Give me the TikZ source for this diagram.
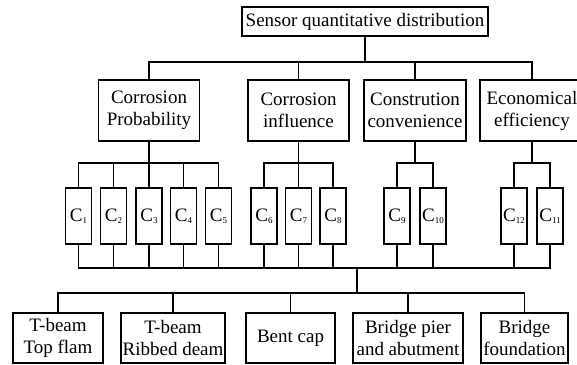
\documentclass[tikz,border=0pt]{standalone}
\usepackage{fontspec}
\setmainfont{Liberation Serif}
\begin{document}
\begin{tikzpicture}[x=1pt,y=-1pt,
  box/.style={draw,line width=1.4pt,inner sep=0pt,align=center,font=\fontsize{19}{22}\selectfont},
  cbox/.style={box,minimum width=26pt,minimum height=56pt},
  conn/.style={line width=1.4pt,line cap=rect}]
\useasboundingbox (0,0) rectangle (577,364);
\newcommand{\Csub}[1]{C\raisebox{-0.25ex}{\fontsize{9}{9}\selectfont #1}}
% top
\node[box,minimum width=246pt,minimum height=29pt] (top) at (365,21.5) {Sensor quantitative distribution};
% level 2
\node[box,minimum width=101pt,minimum height=61pt] (cp) at (149,110.5) {Corrosion\\Probability};
\node[box,minimum width=101pt,minimum height=61pt] (ci) at (298.5,110.5) {Corrosion\\influence};
\node[box,minimum width=102pt,minimum height=61pt] (cc) at (415,110.5) {Constrution\\convenience};
\node[box,minimum width=104pt,minimum height=61pt] (ee) at (532,110.5) {Economical\\efficiency};
% C boxes
\node[cbox] (c1) at (78.5,216) {\Csub{1}};
\node[cbox] (c2) at (113.5,216) {\Csub{2}};
\node[cbox] (c3) at (149,216) {\Csub{3}};
\node[cbox] (c4) at (183.5,216) {\Csub{4}};
\node[cbox] (c5) at (218.5,216) {\Csub{5}};
\node[cbox] (c6) at (264,216) {\Csub{6}};
\node[cbox] (c7) at (298.5,216) {\Csub{7}};
\node[cbox] (c8) at (333,216) {\Csub{8}};
\node[cbox] (c9) at (397,216) {\Csub{9}};
\node[cbox] (c10) at (433,216) {\Csub{10}};
\node[cbox] (c12) at (514,216) {\Csub{12}};
\node[cbox] (c11) at (550,216) {\Csub{11}};
% bottom boxes
\node[box,minimum width=90pt,minimum height=50pt] (b1) at (58,338) {T-beam\\Top flam};
\node[box,minimum width=104pt,minimum height=50pt] (b2) at (173,338) {T-beam\\Ribbed deam};
\node[box,minimum width=89pt,minimum height=50pt] (b3) at (290.5,338) {Bent cap};
\node[box,minimum width=110pt,minimum height=50pt] (b4) at (408,338) {Bridge pier\\and abutment};
\node[box,minimum width=87pt,minimum height=50pt] (b5) at (524.5,338) {Bridge\\foundation};
% junction coordinates
\coordinate (j0) at (365,62);
\coordinate (j1) at (149,163);
\coordinate (j2) at (298.5,163);
\coordinate (j3) at (415,163);
\coordinate (j4) at (532,163);
\coordinate (jl) at (357,268);
\coordinate (jb) at (357,293);
% connectors
\draw[conn] (top.south) -- (j0);
\foreach \n in {cp,ci,cc,ee} {\draw[conn] (j0) -| (\n.north);}
\draw[conn] (cp.south) -- (j1);
\foreach \n in {c1,c2,c3,c4,c5} {\draw[conn] (j1) -| (\n.north);}
\draw[conn] (ci.south) -- (j2);
\foreach \n in {c6,c7,c8} {\draw[conn] (j2) -| (\n.north);}
\draw[conn] (cc.south) -- (j3);
\foreach \n in {c9,c10} {\draw[conn] (j3) -| (\n.north);}
\draw[conn] (ee.south) -- (j4);
\foreach \n in {c12,c11} {\draw[conn] (j4) -| (\n.north);}
\foreach \n in {c1,c2,c3,c4,c5,c6,c7,c8,c9,c10,c12,c11} {\draw[conn] (\n.south) |- (jl);}
\draw[conn] (jl) -- (jb);
\foreach \n in {b1,b2,b3,b4,b5} {\draw[conn] (jb) -| (\n.north);}
\end{tikzpicture}
\end{document}
